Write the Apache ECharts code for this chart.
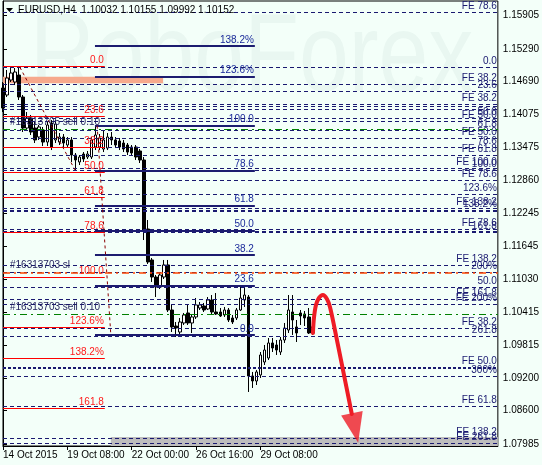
<!DOCTYPE html>
<html><head><meta charset="utf-8">
<script src="https://cdn.jsdelivr.net/npm/echarts@6/dist/echarts.min.js"></script>
<style>html,body{margin:0;padding:0;background:#f3fff9}#c{width:542px;height:465px}</style>
</head><body><div id="c"></div>
<script>
// ---------- data ----------
const headerText = 'EURUSD,H4  1.10032 1.10155 1.09992 1.10152';
const slotCount = 124;
const xTickIndex = [0, 16, 32, 48, 64];
const xTickLabels = ['14 Oct 2015', '19 Oct 08:00', '22 Oct 00:00', '26 Oct 16:00', '29 Oct 08:00'];
const yTickValues = [1.15905, 1.15290, 1.14690, 1.14075, 1.13475, 1.12860, 1.12245, 1.11645, 1.11030, 1.10415, 1.09815, 1.09200, 1.08600, 1.07985];
const yMin = 1.07948, yMax = 1.16177;
const lastPrice = 1.10152;

// [open, close, low, high]
const candleOHLC = [
[1.14568,1.14198,1.14124,1.14679],[1.14439,1.14753,1.14402,1.14901],[1.14716,1.14845,1.14679,1.14938],[1.14679,1.14864,1.14623,1.14938],
[1.14808,1.14402,1.14346,1.14975],[1.14402,1.13828,1.13754,1.14439],[1.13828,1.14013,1.13791,1.14124],[1.14013,1.13754,1.13699,1.14069],
[1.13828,1.13607,1.13551,1.13939],[1.13662,1.13847,1.13607,1.13884],[1.13791,1.13569,1.13495,1.13847],[1.13569,1.13884,1.13495,1.13939],
[1.13921,1.13477,1.13421,1.13976],[1.13607,1.13902,1.13551,1.13976],[1.13569,1.13662,1.13514,1.13736],[1.13662,1.13551,1.13477,1.13717],
[1.13514,1.13607,1.13477,1.13662],[1.13607,1.13329,1.13200,1.13662],[1.13329,1.13237,1.13052,1.13366],[1.13200,1.13292,1.13144,1.13329],
[1.13347,1.13255,1.13200,1.13384],[1.13292,1.13347,1.13255,1.13403],[1.13292,1.13607,1.13255,1.13662],[1.13477,1.13699,1.13421,1.13847],
[1.13477,1.13644,1.13421,1.13717],[1.13440,1.13607,1.13384,1.13791],[1.13458,1.13662,1.13421,1.13736],[1.13662,1.13607,1.13514,1.13754],
[1.13607,1.13514,1.13458,1.13662],[1.13588,1.13477,1.13421,1.13644],[1.13551,1.13440,1.13384,1.13607],[1.13514,1.13384,1.13329,1.13551],
[1.13477,1.13366,1.13311,1.13514],[1.13477,1.13292,1.13237,1.13514],[1.13403,1.13237,1.13181,1.13440],[1.13237,1.11942,1.11757,1.13292],
[1.11961,1.11351,1.11314,1.12127],[1.11388,1.11073,1.10981,1.11425],[1.11073,1.10888,1.10703,1.11110],[1.10888,1.11110,1.10851,1.11166],
[1.11073,1.11296,1.11036,1.11388],[1.11296,1.10463,1.10426,1.11388],[1.10463,1.10149,1.10056,1.10556],[1.10167,1.10130,1.09964,1.10241],
[1.10056,1.10241,1.10019,1.10315],[1.10223,1.10371,1.10186,1.10408],[1.10408,1.10223,1.10186,1.10556],[1.10223,1.10334,1.10038,1.10371],
[1.10334,1.10556,1.10297,1.10685],[1.10500,1.10556,1.10463,1.10611],[1.10537,1.10463,1.10426,1.10593],[1.10482,1.10648,1.10463,1.10703],
[1.10648,1.10426,1.10371,1.10740],[1.10426,1.10389,1.10371,1.10777],[1.10426,1.10352,1.10334,1.10500],[1.10371,1.10463,1.10334,1.10519],
[1.10463,1.10278,1.10241,1.10500],[1.10315,1.10241,1.10204,1.10371],[1.10315,1.10463,1.10278,1.10500],[1.10463,1.10685,1.10445,1.10888],
[1.10648,1.10740,1.10519,1.10925],[1.10703,1.09243,1.08947,1.10740],[1.09243,1.09150,1.09021,1.09317],[1.09150,1.09317,1.09076,1.09354],
[1.09261,1.09631,1.09206,1.09686],[1.09501,1.09723,1.09446,1.09816],[1.09575,1.09853,1.09538,1.09945],[1.09853,1.09760,1.09686,1.09945],
[1.09816,1.09723,1.09631,1.09908],[1.09686,1.09908,1.09631,1.09964],[1.09908,1.10130,1.09853,1.10223],[1.10093,1.10463,1.10038,1.10740],
[1.10426,1.10278,1.10001,1.10740],[1.10149,1.10038,1.09871,1.10278],[1.10408,1.10352,1.10186,1.10463],[1.10389,1.10315,1.10167,1.10445],
[1.10334,1.10038,1.10019,1.10500],[1.10038,1.10152,1.10001,1.10186]
];

// full-width dashed levels (Fibo / FE) and their labels
const dashLevels = [1.15960,1.14951,1.14636,1.14512,1.14272,1.14222,1.14180,1.14008,1.13945,1.13780,1.13638,1.13468,1.13329,1.13083,1.13052,1.12854,1.12608,1.12344,1.12312,1.12281,1.11961,1.11924,1.11892,1.11295,1.11160,1.10883,1.10661,1.10565,1.10130,1.09982,1.09396,1.09243,1.08688,1.08096,1.08004];
const dashLabels = ['FE 78.6','0.0','FE 38.2','23.6','FE 38.2','','','50.0','FE 50.0','61.8','FE 50.0','78.6','FE 61.8','FE 100.0','100.0','FE 78.6','123.6%','FE 138.2','138.2%','','FE 78.6','','161.8','FE 138.2','200%','50.0','FE 161.8','FE 200%','FE 38.2','261.8','FE 50.0','300%','FE 61.8','FE 138.2','FE 261.8'];
const boldDashLevel = 1.09396;

// red Fibo retracement (left)
const redFiboLevels = [1.14962,1.14041,1.13471,1.13011,1.12551,1.11895,1.11060,1.10139,1.09569,1.08649];
const redFiboLabels = ['0.0','23.6','38.2','50.0','61.8','78.6','100.0','123.6%','138.2%','161.8'];
const redFiboSpan = [0, 25.3];

// navy Fibo retracement (middle)
const navyFiboLevels = [1.10001,1.10914,1.11479,1.11936,1.12393,1.13043,1.13871,1.14784,1.15349];
const navyFiboLabels = ['0.0','23.6','38.2','50.0','61.8','78.6','100.0','123.6%','138.2%'];
const navyFiboSpan = [22.86, 62.6];

// Fibo trend lines (anchor points: [bar, price])
const fiboCAnchors = [[4.2, 1.14951], [17.9, 1.13052]];
const fiboBAnchors = [[23.4, 1.13871], [26.8, 1.10001]];

// order lines
const orderLevels = [1.13810, 1.11160, 1.10384];
const orderLabels = ['#16313705 sell 0.10', '#16313703 sl', '#16313703 sell 0.10'];
const orderKinds = ['entry', 'sl', 'entry'];

// rectangles [[bar0, price0], [bar1, price1]]
const salmonRect = [[0.01, 1.14777], [39.8, 1.14655]];
const grayRect = [[26.8, 1.08115], [123, 1.07948]];

// forecast arrow path [bar, price]
const arrowPath = [[77.04,1.10038],[77.29,1.10315],[77.79,1.10556],[78.53,1.10685],[79.52,1.10740],[80.52,1.10666],[81.27,1.10519],[82.5,1.10093],[84.5,1.09354],[86.7,1.08540]];
const arrowHead = [87.5, 1.08281];

// ---------- chart ----------
const FONT = '"Liberation Sans", Arial, sans-serif';
const NAVY = '#191970';
const categories = Array.from({length: slotCount}, (_, i) => String(i));
const isTick = (idx) => xTickIndex.indexOf(idx) >= 0;

const dashData = dashLevels.map((v, i) => {
  const item = { yAxis: v, name: dashLabels[i] };
  if (v === boldDashLevel) item.lineStyle = { width: 2.2, type: [3, 2] };
  return item;
});
const redData = redFiboLevels.map((v, i) => [{ coord: [redFiboSpan[0], v], name: redFiboLabels[i] }, { coord: [redFiboSpan[1], v] }]);
const navyData = navyFiboLevels.map((v, i) => [{ coord: [navyFiboSpan[0], v], name: navyFiboLabels[i] }, { coord: [navyFiboSpan[1], v] }]);
const diagData = [fiboCAnchors, fiboBAnchors].map(a => [{ coord: a[0], name: '' }, { coord: a[1] }]);
const orderData = orderLevels.map((v, i) => ({
  yAxis: v, name: orderLabels[i],
  lineStyle: orderKinds[i] === 'sl'
    ? { color: '#ff4500', type: [7, 4, 2, 4], width: 1.5 }
    : { color: '#008000', type: [7, 4, 2, 4], width: 1.2 }
}));

const baseLabel = { fontSize: 10, fontFamily: FONT };

const option = {
  animation: false,
  backgroundColor: '#f3fff9',
  grid: { left: 3, right: 44, top: 1, bottom: 19, show: true, borderColor: '#000', borderWidth: 1, backgroundColor: 'transparent' },
  graphic: [
    { type: 'text', left: 30, top: 4, z: -10, scaleX: 0.8, style: { text: 'RoboForex', font: '112px "Liberation Sans", Arial', fill: 'rgba(20,70,70,0.045)' } },
    { type: 'polygon', z: 100, shape: { points: [[6, 8], [13, 8], [9.5, 12]] }, style: { fill: '#000' } },
    { type: 'text', left: 18, top: 5, z: 100, style: { text: headerText, font: '10px "Liberation Sans", Arial', fill: '#000' } }
  ],
  xAxis: [
    {
      type: 'category', data: categories, boundaryGap: false,
      axisLine: { lineStyle: { color: '#000', width: 1 } },
      axisTick: { interval: (i) => isTick(i), length: 4, lineStyle: { color: '#000' } },
      axisLabel: { interval: (i) => isTick(i), formatter: (v, i) => xTickLabels[xTickIndex.indexOf(Number(v))] || '', align: 'left', margin: 4, color: '#000', fontSize: 10, fontFamily: FONT },
      splitLine: { show: false }
    },
    { type: 'value', min: 0, max: slotCount - 1, show: false }
  ],
  yAxis: {
    type: 'value', position: 'right', min: yMin, max: yMax, scale: true,
    axisLine: { show: true, lineStyle: { color: '#000' } },
    axisTick: { show: true, customValues: yTickValues, length: 4, lineStyle: { color: '#000' } },
    axisLabel: { customValues: yTickValues, formatter: (v) => v.toFixed(5), margin: 5, color: '#000', fontSize: 10, fontFamily: FONT },
    splitLine: { show: false }
  },
  series: [
    { // rectangles
      type: 'line', xAxisIndex: 1, data: [], silent: true,
      markArea: { silent: true, z: 0.5, data: [
        [{ coord: salmonRect[0], itemStyle: { color: '#f6a98c' } }, { coord: salmonRect[1] }],
        [{ coord: grayRect[0], itemStyle: { color: '#bdbdbd' } }, { coord: grayRect[1] }]
      ] }
    },
    {
      type: 'candlestick', xAxisIndex: 0, data: candleOHLC, barWidth: 3, z: 3,
      itemStyle: { color: '#ffffff', color0: '#000000', borderColor: '#000000', borderColor0: '#000000', borderWidth: 1 }
    },
    { // dashed levels
      type: 'line', xAxisIndex: 1, data: [], silent: true,
      markLine: { silent: true, symbol: 'none', z: 5, precision: 5,
        lineStyle: { color: NAVY, type: [4, 3], width: 1 },
        label: Object.assign({ show: true, position: 'insideEndTop', formatter: '{b}', color: NAVY, distance: [1, 1] }, baseLabel),
        data: dashData }
    },
    { // red fibo
      type: 'line', xAxisIndex: 1, data: [], silent: true,
      markLine: { silent: true, symbol: 'none', z: 6, precision: 5,
        lineStyle: { color: '#ff0000', type: 'solid', width: 1 },
        label: Object.assign({ show: true, position: 'insideEndTop', formatter: '{b}', color: '#ff1a1a', distance: [1, 1] }, baseLabel),
        data: redData }
    },
    { // navy fibo
      type: 'line', xAxisIndex: 1, data: [], silent: true,
      markLine: { silent: true, symbol: 'none', z: 6, precision: 5,
        lineStyle: { color: '#1c1c70', type: 'solid', width: 2 },
        label: Object.assign({ show: true, position: 'insideEndTop', formatter: '{b}', color: '#1a2a9a', distance: [1, 1] }, baseLabel),
        data: navyData }
    },
    { // fibo trend lines
      type: 'line', xAxisIndex: 1, data: [], silent: true,
      markLine: { silent: true, symbol: 'none', z: 6, precision: 5,
        lineStyle: { color: '#8b0000', type: [3, 3], width: 1 },
        label: { show: false },
        data: diagData }
    },
    { // orders
      type: 'line', xAxisIndex: 1, data: [], silent: true,
      markLine: { silent: true, symbol: 'none', z: 7, precision: 5,
        label: Object.assign({ show: true, position: 'insideStartTop', formatter: '{b}', color: '#24245e', distance: [7, 2] }, baseLabel),
        data: orderData }
    },
    { // arrow body
      type: 'line', xAxisIndex: 1, data: arrowPath, smooth: 0.35, symbol: 'none', z: 10, silent: true,
      lineStyle: { color: '#ee1c25', width: 4, cap: 'round' }
    },
    { // arrow head
      type: 'scatter', xAxisIndex: 1, data: [arrowHead], z: 10, silent: true,
      symbol: 'path://M0,0 L20,0 L10,28 Z', symbolSize: [22, 30], symbolRotate: 12,
      itemStyle: { color: '#ee1c25' }
    },
    { // last price tag
      type: 'line', xAxisIndex: 1, data: [], silent: true,
      markLine: { silent: true, symbol: 'none', z: 20, precision: 5,
        lineStyle: { opacity: 0 },
        label: Object.assign({ show: true, position: 'end', formatter: (p) => p.value.toFixed(5), color: '#fff', backgroundColor: '#000', padding: [2, 3, 1, 3], distance: 3 }, baseLabel),
        data: [{ yAxis: lastPrice }] }
    }
  ]
};

const chart = echarts.init(document.getElementById('c'));
chart.setOption(option);
</script>
</body></html>
